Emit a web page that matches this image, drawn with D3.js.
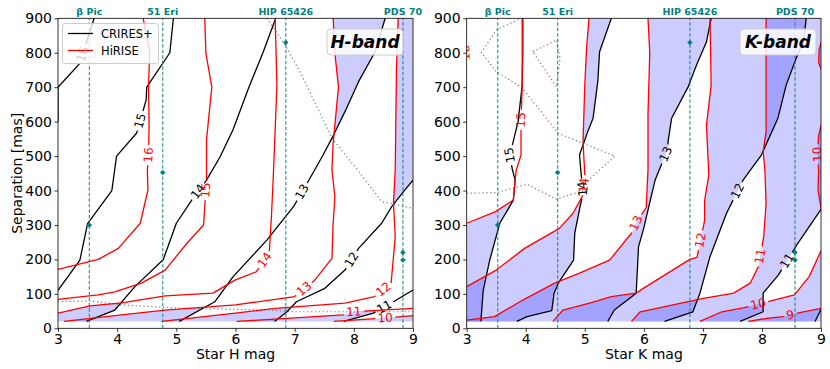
<!DOCTYPE html>
<html>
<head>
<meta charset="utf-8">
<script src="https://cdn.jsdelivr.net/npm/d3@7"></script>
<style>
body{margin:0;background:#fff}
text{font-family:"DejaVu Sans",sans-serif}
</style>
</head>
<body>
<svg id="chart" width="830" height="369"></svg>
<script>
// ticks
const magTicks = [3, 4, 5, 6, 7, 8, 9];
const sepTicks = [0, 100, 200, 300, 400, 500, 600, 700, 800, 900];

// targets
const targetNames = ['β Pic', '51 Eri', 'HIP 65426', 'PDS 70'];
const targetHmag = [3.53, 4.77, 6.85, 8.83];
const targetKmag = [3.525, 4.54, 6.78, 8.56];
const planetSeps = [[300], [452], [830], [220, 198]];

// H band contours [mag, sep]
const hCrires = [
  {level: 16, pts: [[3.0,600],[3.0,700],[3.37,769],[3.61,900]]},
  {level: 15, pts: [[3.0,110],[3.37,198],[3.5,304],[3.91,400],[3.99,500],[4.33,567],[4.49,663],[4.50,700],[4.89,800],[4.95,900]]},
  {level: 14, pts: [[3.48,20],[3.96,53],[4.30,121],[4.78,200],[5.0,305],[5.26,372],[5.51,430],[5.74,498],[5.96,577],[6.22,697],[6.47,803],[6.68,900]]},
  {level: 13, pts: [[5.05,20],[5.65,77],[5.96,150],[6.53,256],[6.98,353],[7.29,445],[7.48,503],[7.63,552],[7.85,629],[8.08,716],[8.36,803],[8.53,900]]},
  {level: 12, pts: [[6.66,20],[6.87,48],[7.03,77],[7.51,116],[7.85,169],[8.08,232],[8.47,305],[8.64,353],[8.86,401],[9.0,430]]},
  {level: 11, pts: [[7.83,20],[8.33,44],[8.67,77],[9.0,111]]}
];
const hHirise = [
  {level: 16, pts: [[3.0,171],[3.68,200],[4.02,232],[4.39,305],[4.52,401],[4.51,460],[4.53,503],[4.54,590],[4.53,701],[4.55,803],[4.44,900]]},
  {level: 15, pts: [[3.0,84],[3.68,97],[3.96,106],[4.41,131],[4.81,169],[5.18,247],[5.46,300],[5.51,430],[5.51,547],[5.60,700],[5.50,798],[5.48,900]]},
  {level: 14, pts: [[3.0,44],[3.54,65],[4.08,74],[4.81,94],[5.62,102],[5.99,140],[6.35,164],[6.57,216],[6.61,334],[6.64,445],[6.70,706],[6.67,900]]},
  {level: 13, pts: [[3.1,20],[3.96,37],[4.81,53],[6.0,68],[7.0,92],[7.34,140],[7.63,203],[7.65,305],[7.68,382],[7.63,460],[7.65,537],[7.74,700],[7.68,798],[7.65,900]]},
  {level: 12, pts: [[4.75,20],[6.0,44],[6.67,58],[7.85,73],[8.35,92],[8.63,131],[8.70,266],[8.67,363],[8.70,460],[8.72,750],[8.75,900]]},
  {level: 11, pts: [[6.02,20],[7.82,39],[7.99,48],[9.0,58]]},
  {level: 10, pts: [[7.66,20],[8.45,29],[9.0,37]]}
];
const hDotted = [
  [[6.53,900],[6.84,822],[7.12,735],[7.63,552],[8.13,445],[8.47,368],[9.0,348]],
  [[3.0,77],[3.54,80],[4.05,68],[5.12,58],[6.53,53],[6.98,48],[9.0,48]]
];
const hCriresLabels = [[16,3.46,793],[15,4.44,600],[14,5.37,397],[13,7.12,397],[12,7.93,203],[11,8.53,58]];
const hHiriseLabels = [[16,4.53,503],[15,5.52,401],[14,6.50,198],[13,7.20,106],[12,8.55,102],[11,8.0,48],[10,8.53,29]];

// K band contours [mag, sep]
const kCrires = [
  {level: 15, pts: [[3.24,20],[3.28,111],[3.39,198],[3.56,305],[3.79,372],[3.82,430],[3.77,464],[3.73,503],[3.78,537],[3.87,600],[3.94,706],[3.95,800],[3.95,900]]},
  {level: 14, pts: [[3.85,20],[4.02,34],[4.44,51],[4.48,102],[4.55,131],[4.81,198],[4.83,276],[4.92,353],[4.97,392],[4.94,445],[4.91,503],[5.05,571],[5.14,610],[5.22,716],[5.25,803],[5.45,900]]},
  {level: 13, pts: [[5.39,20],[5.50,53],[5.87,102],[5.89,169],[5.91,237],[5.99,285],[6.19,430],[6.27,464],[6.41,520],[6.41,542],[6.47,610],[6.75,701],[6.89,764],[7.06,831],[7.14,900]]},
  {level: 12, pts: [[6.35,20],[6.83,48],[6.95,102],[7.12,208],[7.40,334],[7.68,430],[7.99,503],[8.27,610],[8.41,706],[8.58,784],[8.70,831],[8.75,900]]},
  {level: 11, pts: [[7.63,20],[8.02,48],[8.02,102],[8.28,155],[8.59,242],[9.0,345]]},
  {level: 10, pts: [[8.90,20],[9.0,55]]}
];
const kHirise = [
  {level: 16, pts: [[2.96,600],[2.98,800],[2.96,900]]},
  {level: 15, pts: [[3.0,305],[3.48,338],[3.79,372],[3.82,430],[3.84,460],[3.92,503],[3.92,600],[3.94,706],[3.94,900]]},
  {level: 14, pts: [[3.0,121],[3.5,169],[3.98,232],[4.57,290],[4.80,334],[4.97,387],[5.0,445],[4.97,542],[5.0,706],[5.03,812],[5.07,900]]},
  {level: 13, pts: [[3.0,24],[3.47,34],[3.95,82],[4.49,131],[4.91,160],[5.42,198],[5.79,276],[5.88,310],[6.04,350],[6.07,460],[6.07,620],[6.10,800],[6.07,900]]},
  {level: 12, pts: [[4.46,20],[4.63,53],[5.08,73],[5.45,92],[5.87,102],[5.99,116],[6.78,200],[6.90,206],[7.03,314],[7.03,372],[7.1,445],[7.06,590],[7.14,706],[7.12,900]]},
  {level: 11, pts: [[5.79,20],[5.94,48],[7.01,87],[7.52,102],[7.80,131],[7.94,179],[8.03,266],[8.07,363],[8.05,460],[8.02,513],[8.07,571],[8.07,900]]},
  {level: 10, pts: [[6.95,20],[7.32,48],[7.70,60],[8.35,88],[8.55,97],[8.80,150],[9.0,225],[9.3,280],[9.02,330],[8.95,400],[8.96,460],[8.94,505],[8.96,560],[9.06,630],[9.1,700],[9.02,745],[8.96,770],[8.97,810],[9.04,850],[9.06,900]]},
  {level: 9, pts: [[7.77,20],[8.08,29],[8.36,34],[8.70,48],[9.0,58]]}
];
const kDotted = [
  [[3.0,392],[3.51,394],[4.02,418],[4.52,375],[4.97,400],[5.09,435],[5.51,500],[4.55,566],[3.93,700],[3.5,745],[3.25,800],[3.5,866],[3.92,900]],
  [[4.12,803],[4.52,837],[4.58,784],[4.52,701],[4.12,803]]
];
const kCriresLabels = [[15,3.73,503],[14,4.96,405],[13,6.38,505],[12,7.57,400],[11,8.38,200]];
const kHiriseLabels = [[16,2.98,800],[15,3.92,605],[14,5.0,415],[13,5.87,305],[12,6.95,256],[11,8.0,208],[10,7.94,68],[10,8.94,505],[9,8.48,40]];

/***********************************************/
const svg = d3.select('#chart');
const y = d3.scaleLinear().domain([0, 900]).range([328.3, 18.3]);

const panels = [
  {id: 'H', x0: 58, x1: 413, crires: hCrires, hirise: hHirise, crLab: hCriresLabels, hiLab: hHiriseLabels,
   dotted: hDotted, tmag: targetHmag, fills: [16,15,14,13,12,11,10], xlabel: 'Star H mag', tag: 'H-band', tagX: 365},
  {id: 'K', x0: 466.7, x1: 821, crires: kCrires, hirise: kHirise, crLab: kCriresLabels, hiLab: kHiriseLabels,
   dotted: kDotted, tmag: targetKmag, fills: [15,14,13,12,11,10,9], xlabel: 'Star K mag', tag: 'K-band', tagX: 778}
];

// x position of a contour at separation s (lines are ordered by sep)
function xAt(pts, s){
  const n = pts.length;
  if(s < pts[0][1]) return pts[0][0] <= 3.02 ? -Infinity : NaN;
  if(s > pts[n-1][1]) return pts[n-1][0] >= 8.98 ? Infinity : (pts[n-1][0] <= 3.02 ? -Infinity : NaN);
  for(let i = 1; i < n; i++){
    const a = pts[i-1], b = pts[i];
    if(s <= b[1]){
      const t = b[1] === a[1] ? 0 : (s - a[1]) / (b[1] - a[1]);
      return a[0] + t * (b[0] - a[0]);
    }
  }
  return NaN;
}

// region where HiRISE reaches the level before CRIRES+
function fillBetween(rp, bp){
  const polys = [];
  let left = [], right = [];
  const flush = function(){
    if(left.length > 1) polys.push(left.concat(right.reverse()));
    left = []; right = [];
  };
  for(let s = 20; s <= 900; s += 0.5){
    const xr = rp ? xAt(rp, s) : NaN;
    const xb = bp ? xAt(bp, s) : Infinity;
    const lo = Math.max(xr, 3), hi = Math.min(xb, 9);
    if(isFinite(lo) && isFinite(hi) && lo < hi){ left.push([lo, s]); right.push([hi, s]); }
    else flush();
  }
  flush();
  return polys;
}

function pointAt(pix, cum, s){
  for(let i = 1; i < pix.length; i++){
    if(s <= cum[i] || i === pix.length - 1){
      const len = cum[i] - cum[i-1];
      const t = len ? Math.max(0, Math.min(1, (s - cum[i-1]) / len)) : 0;
      return [pix[i-1][0] + t * (pix[i][0] - pix[i-1][0]), pix[i-1][1] + t * (pix[i][1] - pix[i-1][1])];
    }
  }
  return pix[pix.length - 1];
}

function drawContour(layer, x, line, labels, color){
  const pix = line.pts.map(d => [x(d[0]), y(d[1])]);
  const cum = [0];
  for(let i = 1; i < pix.length; i++) cum.push(cum[i-1] + Math.hypot(pix[i][0]-pix[i-1][0], pix[i][1]-pix[i-1][1]));
  const total = cum[cum.length - 1];
  const gaps = [], texts = [];
  labels.filter(l => l[0] === line.level).forEach(function(l){
    const q = [x(l[1]), y(l[2])];
    let best = {d: Infinity};
    for(let i = 1; i < pix.length; i++){
      const a = pix[i-1], b = pix[i];
      const dx = b[0]-a[0], dy = b[1]-a[1], len2 = dx*dx + dy*dy;
      let t = len2 ? ((q[0]-a[0])*dx + (q[1]-a[1])*dy) / len2 : 0;
      t = Math.max(0, Math.min(1, t));
      const px = a[0] + t*dx, py = a[1] + t*dy;
      const dd = (px-q[0])**2 + (py-q[1])**2;
      if(dd < best.d) best = {d: dd, s: cum[i-1] + t*Math.sqrt(len2), px: px, py: py, ang: Math.atan2(dy, dx) * 180 / Math.PI};
    }
    let a = best.ang;
    while(a > 80) a -= 180;
    while(a <= -100) a += 180;
    const txt = String(line.level);
    const half = txt.length * 0.64 * 12 / 2 + 2.5;
    gaps.push([best.s - half, best.s + half]);
    texts.push({txt: txt, x: best.px, y: best.py, a: a});
  });
  gaps.sort((p, q) => p[0] - q[0]);
  const keep = [];
  let start = 0;
  gaps.forEach(function(g){
    if(g[0] > start) keep.push([start, g[0]]);
    start = Math.max(start, g[1]);
  });
  if(start < total) keep.push([start, total]);
  keep.forEach(function(k){
    const seg = [pointAt(pix, cum, k[0])];
    for(let i = 0; i < pix.length; i++) if(cum[i] > k[0] && cum[i] < k[1]) seg.push(pix[i]);
    seg.push(pointAt(pix, cum, k[1]));
    layer.append('path').attr('d', d3.line()(seg))
      .attr('fill', 'none').attr('stroke', color).attr('stroke-width', 1.3).attr('stroke-linejoin', 'round');
  });
  texts.forEach(function(t){
    layer.append('text').attr('transform', `translate(${t.x},${t.y}) rotate(${t.a})`)
      .attr('text-anchor', 'middle').attr('dominant-baseline', 'central')
      .style('font-size', '12px').attr('fill', color).text(t.txt);
  });
}

panels.forEach(function(p){
  const x = d3.scaleLinear().domain([3, 9]).range([p.x0, p.x1]);
  const clipId = 'clip' + p.id;
  svg.append('clipPath').attr('id', clipId).append('rect')
    .attr('x', p.x0).attr('y', y(900)).attr('width', p.x1 - p.x0).attr('height', y(0) - y(900));
  const plot = svg.append('g').attr('clip-path', `url(#${clipId})`);

  // shaded regions
  p.fills.forEach(function(L){
    const red = p.hirise.find(d => d.level === L), blk = p.crires.find(d => d.level === L);
    fillBetween(red ? red.pts : null, blk ? blk.pts : null).forEach(function(poly){
      plot.append('path').attr('d', d3.line().x(d => x(d[0])).y(d => y(d[1]))(poly) + 'Z')
        .attr('fill', 'rgb(0,0,255)').attr('fill-opacity', 0.2);
    });
  });

  // dotted curves
  p.dotted.forEach(function(c){
    plot.append('path').attr('d', d3.line().x(d => x(d[0])).y(d => y(d[1]))(c))
      .attr('fill', 'none').attr('stroke', '#808080').attr('stroke-width', 1.2).attr('stroke-dasharray', '1.3,2.6');
  });

  p.crires.forEach(c => drawContour(plot, x, c, p.crLab, '#000'));
  p.hirise.forEach(c => drawContour(plot, x, c, p.hiLab, '#ff0000'));

  // targets
  p.tmag.forEach(function(m, i){
    plot.append('line').attr('x1', x(m)).attr('x2', x(m)).attr('y1', y(0)).attr('y2', y(900))
      .attr('stroke', '#008080').attr('stroke-opacity', 0.75).attr('stroke-width', 1.3).attr('stroke-dasharray', '3.5,2');
    planetSeps[i].forEach(function(s){
      plot.append('path').attr('d', d3.symbol(d3.symbolSquare, 15)())
        .attr('transform', `translate(${x(m)},${y(s)}) rotate(45)`).attr('fill', '#008080');
    });
    svg.append('text').attr('x', x(m)).attr('y', 14.5).attr('text-anchor', 'middle')
      .style('font-size', '9.5px').style('font-weight', 'bold').attr('fill', '#008080').text(targetNames[i]);
  });

  // axes
  const ax = svg.append('g').attr('transform', `translate(0,${y(0)})`)
    .call(d3.axisBottom(x).tickValues(magTicks).tickSize(3.5).tickPadding(2.5).tickFormat(d3.format('d')));
  const ay = svg.append('g').attr('transform', `translate(${p.x0},0)`)
    .call(d3.axisLeft(y).tickValues(sepTicks).tickSize(3.5).tickPadding(2.5));
  [ax, ay].forEach(function(a){
    a.select('.domain').remove();
    a.selectAll('text').style('font-size', '14px').style('font-family', '"DejaVu Sans",sans-serif').attr('fill', '#000');
    a.selectAll('line').attr('stroke', '#000').attr('stroke-width', 0.8);
  });
  svg.append('rect').attr('x', p.x0).attr('y', y(900)).attr('width', p.x1 - p.x0).attr('height', y(0) - y(900))
    .attr('fill', 'none').attr('stroke', '#000').attr('stroke-width', 0.8);
  svg.append('text').attr('x', (p.x0 + p.x1) / 2).attr('y', 359).attr('text-anchor', 'middle')
    .style('font-size', '14px').text(p.xlabel);

  // band tag
  svg.append('rect').attr('x', p.tagX - 38).attr('y', 29).attr('width', 76).attr('height', 26).attr('rx', 4)
    .attr('fill', '#fff').attr('fill-opacity', 0.85).attr('stroke', '#cccccc').attr('stroke-width', 1);
  svg.append('text').attr('x', p.tagX).attr('y', 42).attr('text-anchor', 'middle').attr('dominant-baseline', 'central')
    .style('font-size', '17px').style('font-weight', 'bold').style('font-style', 'italic').text(p.tag);
});

// y label
svg.append('text').attr('transform', `translate(17,${(y(0) + y(900)) / 2}) rotate(-90)`)
  .attr('text-anchor', 'middle').attr('dominant-baseline', 'central').style('font-size', '14px').text('Separation [mas]');

// legend
const legend = svg.append('g');
legend.append('rect').attr('x', 62.5).attr('y', 23.5).attr('width', 96).attr('height', 40).attr('rx', 3)
  .attr('fill', '#fff').attr('fill-opacity', 0.8).attr('stroke', '#cccccc').attr('stroke-width', 1);
[['CRIRES+', '#000'], ['HiRISE', '#ff0000']].forEach(function(e, i){
  const ly = 33.5 + i * 17;
  legend.append('line').attr('x1', 68).attr('x2', 93).attr('y1', ly).attr('y2', ly).attr('stroke', e[1]).attr('stroke-width', 1.3);
  legend.append('text').attr('x', 101).attr('y', ly).attr('dominant-baseline', 'central').style('font-size', '11.5px').text(e[0]);
});
</script>
</body>
</html>
